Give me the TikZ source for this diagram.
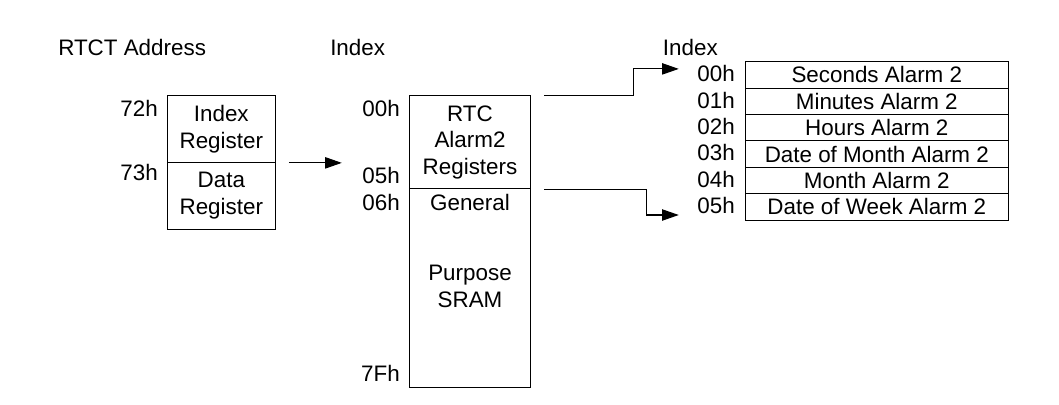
\documentclass[tikz,border=0pt]{standalone}
\usepackage{fontspec}
\setmainfont{Liberation Sans}
\usetikzlibrary{arrows.meta,calc}

\begin{document}
\begin{tikzpicture}[x=0.75pt, y=-0.75pt,
		every node/.style={font=\fontsize{16.8}{20}\selectfont, inner sep=0pt},
		regbox/.style={draw, line width=0.8pt, align=center},
		cell/.style={regbox, minimum width=197.25pt, minimum height=19.8pt},
		addr/.style={anchor=base east},
		head/.style={anchor=base west},
		ptr/.style={line width=0.8pt, -{Triangle[length=12.5pt, width=8.5pt]}}]
		%%%%% START %%%%%
		
		\useasboundingbox (0, 0) rectangle (1059, 404);
		
		\node[head] (hrtct) at (58, 55) {RTCT Address};
		\node[head] (hindex) at (330, 55) {Index};
		\node[head] (halarm) at (662.7, 55) {Index};
		
		% RTCT port pair
		\node[regbox, minimum width=81pt, minimum height=50pt] (idxreg) at (221.3, 129) {Index\\Register};
		\node[regbox, minimum width=81pt, minimum height=50pt] (datreg) at (221.3, 195.7) {Data\\Register};
		\node[addr] (a72) at (158, 116) {72h};
		\node[addr] (a73) at (158, 180.7) {73h};
		
		% indexed space
		\node[regbox, minimum width=91pt, minimum height=69.75pt] (rtcreg) at (470, 142.2) {RTC\\Alarm2\\Registers};
		\node[regbox, minimum width=91pt, minimum height=149.25pt] (sram) at (470, 288.2) {};
		\node[anchor=base] (gen) at (470, 210.7) {General};
		\node[anchor=base, align=center] (purp) at (470, 280.7) {Purpose};
		\node[anchor=base] (sramtxt) at (470, 307.3) {SRAM};
		\node[addr] (i00) at (400, 116) {00h};
		\node[addr] (i05) at (400, 183.3) {05h};
		\node[addr] (i06) at (400, 210.7) {06h};
		\node[addr] (i7f) at (400, 381.7) {7Fh};
		
		% alarm 2 registers
		\node[cell] (sec) at (876.8, 74.9) {Seconds Alarm 2};
		\node[cell] (min) at (876.8, 101.3) {Minutes Alarm 2};
		\node[cell] (hrs) at (876.8, 127.7) {Hours Alarm 2};
		\node[cell] (dom) at (876.8, 154.1) {Date of Month Alarm 2};
		\node[cell] (mon) at (876.8, 180.5) {Month Alarm 2};
		\node[cell] (dow) at (876.8, 206.9) {Date of Week Alarm 2};
		\foreach \i/\t in {0/00h, 1/01h, 2/02h, 3/03h, 4/04h, 5/05h}
			\node[addr] (r\i) at (735, 81.7+26.4*\i) {\t};
		
		% pointers
		\draw[ptr] ($(idxreg.south east)+(13, 0)$) -- ($(rtcreg.west |- idxreg.south)+(-67, 0)$);
		\draw[ptr] ($(rtcreg.north east)+(13, 0)$) -| ($(sec.west)+(-111, -6)$) -- ($(sec.west)+(-66, -6)$);
		\draw[ptr] ($(rtcreg.south east)+(13, 0)$) -| ($(dow.west)+(-98.6, 8.1)$) -- ($(dow.west)+(-66, 8.1)$);
		
		%%%%% END %%%%%
	\end{tikzpicture}
\end{document}
